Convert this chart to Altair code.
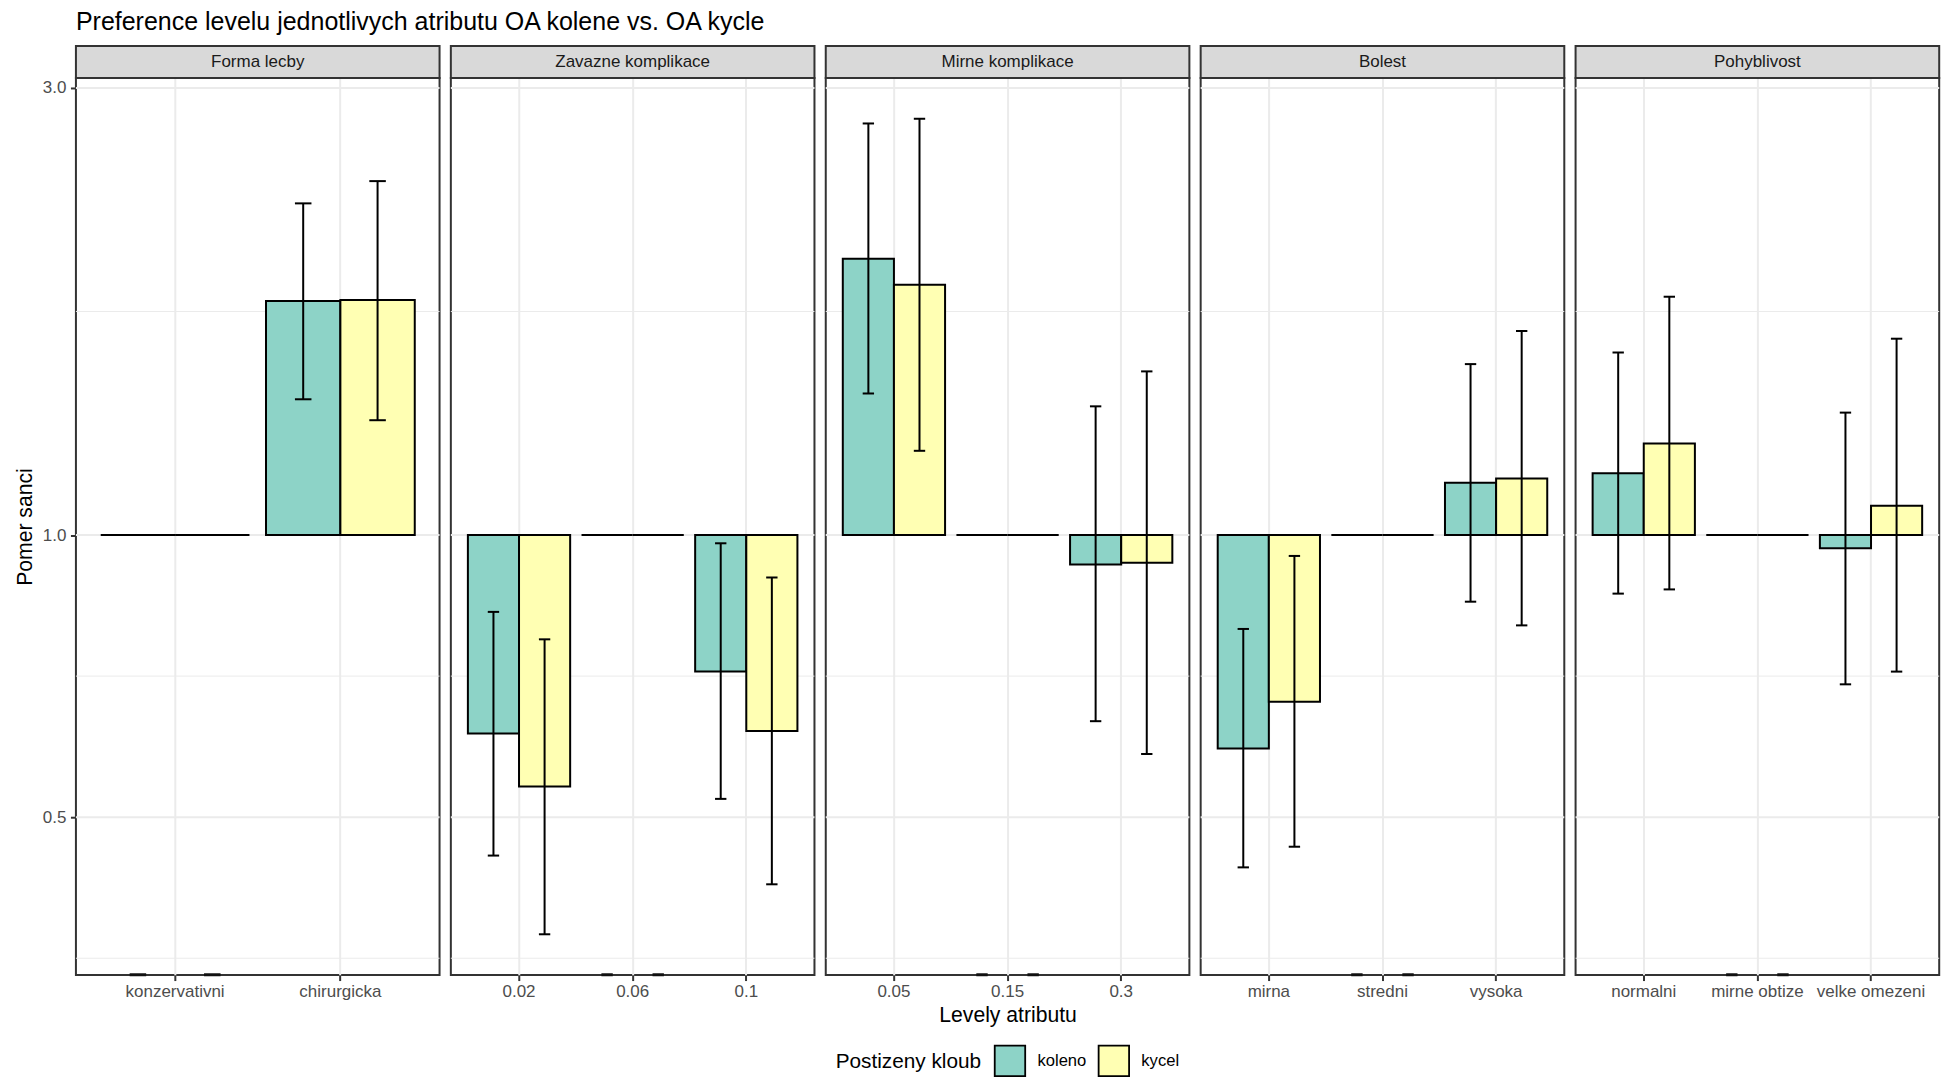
import altair as alt
import numpy as np
import pandas as pd

# ---------------- data ----------------
attributes = ["Forma lecby", "Zavazne komplikace", "Mirne komplikace", "Bolest", "Pohyblivost"]
levels_by_attr = [
    ["konzervativni", "chirurgicka"],
    ["0.02", "0.06", "0.1"],
    ["0.05", "0.15", "0.3"],
    ["mirna", "stredni", "vysoka"],
    ["normalni", "mirne obtize", "velke omezeni"],
]
reference_levels = ["konzervativni", "0.06", "0.15", "stredni", "mirne obtize"]
joints = ["koleno", "kycel"]
joint_colors = ["#8DD3C7", "#FFFFB3"]

# flattened level order: konzervativni, chirurgicka, 0.02, 0.06, 0.1, 0.05, 0.15, 0.3,
# mirna, stredni, vysoka, normalni, mirne obtize, velke omezeni
or_koleno = [1.0, 1.777, 0.614, 1.0, 0.715, 1.972, 1.0, 0.930, 0.592, 1.0, 1.137, 1.164, 1.0, 0.968]
lo_koleno = [None, 1.396, 0.455, None, 0.523, 1.416, None, 0.633, 0.442, None, 0.849, 0.866, None, 0.693]
hi_koleno = [None, 2.259, 0.828, None, 0.980, 2.749, None, 1.372, 0.794, None, 1.522, 1.566, None, 1.351]
or_kycel = [1.0, 1.782, 0.539, 1.0, 0.618, 1.850, 1.0, 0.934, 0.664, 1.0, 1.149, 1.252, 1.0, 1.075]
lo_kycel = [None, 1.326, 0.375, None, 0.424, 1.230, None, 0.584, 0.465, None, 0.801, 0.875, None, 0.715]
hi_kycel = [None, 2.386, 0.774, None, 0.901, 2.781, None, 1.495, 0.950, None, 1.651, 1.796, None, 1.620]

y_breaks = [0.25, 0.5, 1.0, 3.0]
y_labels_shown = [0.5, 1.0, 3.0]

rows = []
k = 0
for a, levs in zip(attributes, levels_by_attr):
    for lev in levs:
        for j, o, lo, hi in ((joints[0], or_koleno, lo_koleno, hi_koleno),
                             (joints[1], or_kycel, lo_kycel, hi_kycel)):
            rows.append(dict(attr=a, level=lev, joint=j, odds=o[k],
                             lo=lo[k], hi=hi[k], ref=lev in reference_levels))
        k += 1
df = pd.DataFrame(rows)

# log-scale domain with 5% expansion (as ggplot does)
lmin = np.log(df["lo"].dropna().min())
lmax = np.log(df["hi"].dropna().max())
rng = lmax - lmin
y_domain = [float(np.exp(lmin - 0.05 * rng)), float(np.exp(lmax + 0.05 * rng))]

lb = np.log(y_breaks)
minor_vals = [float(np.exp((lb[i] + lb[i + 1]) / 2)) for i in range(len(lb) - 1)]
grid_major = pd.DataFrame({"gv": y_labels_shown})
grid_minor = pd.DataFrame({"gv": minor_vals})

# ---------------- layout / style ----------------
W, H = 364, 898
STRIP = 32
FONT = "Liberation Sans"
LW = 2.0
TXT = 17
TITLE_TXT = 21.2

color = alt.Color("joint:N",
                  scale=alt.Scale(domain=joints, range=joint_colors),
                  legend=alt.Legend(orient="none", legendX=760.5, legendY=967,
                                    direction="horizontal", titleOrient="left",
                                    title="Postizeny kloub", symbolType="square",
                                    symbolSize=930, symbolStrokeColor="black",
                                    symbolStrokeWidth=1.8, symbolOpacity=1,
                                    labelFontSize=16.6, titleFontSize=20.8,
                                    labelFont=FONT, titleFont=FONT,
                                    labelOffset=11, columnPadding=8, titlePadding=12,
                                    titleFontWeight="normal", titleColor="black",
                                    labelColor="black", titleBaseline="middle"))

panels = []
for i, (name, levs) in enumerate(zip(attributes, levels_by_attr)):
    d = df[df["attr"] == name]
    dref = d[d["ref"]]
    n = len(levs)
    unit = W / (n + 0.2)
    cap = 0.1 * unit

    xaxis = alt.Axis(title="Levely atributu" if i == 2 else None, labelAngle=0,
                     bandPosition=0.5, grid=True, domain=False, ticks=True,
                     labelPadding=3, titlePadding=5)
    x = alt.X("level:N", sort=levs,
              scale=alt.Scale(domain=levs, paddingInner=0.1, paddingOuter=0.15),
              axis=xaxis)
    xo = alt.XOffset("joint:N", sort=joints,
                     scale=alt.Scale(domain=joints, paddingInner=0, paddingOuter=0))

    if i == 0:
        yaxis = alt.Axis(title="Pomer sanci", values=y_labels_shown, format=".1f",
                         grid=False, domain=False, labelPadding=4.5, titlePadding=7)
    else:
        yaxis = None

    def yenc(field):
        return alt.Y(f"{field}:Q",
                     scale=alt.Scale(type="log", domain=y_domain, nice=False, zero=False),
                     axis=yaxis)

    g_minor = alt.Chart(grid_minor).mark_rule(color="#EBEBEB", strokeWidth=1.0).encode(y=yenc("gv"))
    g_major = alt.Chart(grid_major).mark_rule(color="#EBEBEB", strokeWidth=2.0).encode(y=yenc("gv"))

    bars = alt.Chart(d).mark_bar(stroke="black", strokeWidth=LW, opacity=1).encode(
        x=x, xOffset=xo, y=yenc("odds"), y2=alt.datum(1), color=color)

    errs = alt.Chart(d).mark_rule(color="black", strokeWidth=LW).encode(
        x=x, xOffset=xo, y=yenc("lo"), y2="hi:Q")
    cap_lo = alt.Chart(d).mark_tick(color="black", thickness=LW, size=cap,
                                    orient="horizontal", opacity=1).encode(
        x=x, xOffset=xo, y=yenc("lo"))
    cap_hi = alt.Chart(d).mark_tick(color="black", thickness=LW, size=cap,
                                    orient="horizontal", opacity=1).encode(
        x=x, xOffset=xo, y=yenc("hi"))
    ref_caps = alt.Chart(dref).mark_tick(color="#111111", thickness=3, size=cap,
                                         orient="horizontal", opacity=1).encode(
        x=x, xOffset=xo, y=alt.value(H - 0.3))

    strip_df = pd.DataFrame({"attr": [name]})
    strip = alt.Chart(strip_df).mark_rect(fill="#D9D9D9", stroke="#333333",
                                          strokeWidth=LW).encode(
        x=alt.value(0), x2=alt.value(W), y=alt.value(-STRIP), y2=alt.value(0))
    strip_text = alt.Chart(strip_df).mark_text(font=FONT, fontSize=TXT,
                                               color="#1A1A1A").encode(
        x=alt.value(W / 2), y=alt.value(-STRIP / 2), text="attr:N")

    panel = alt.layer(g_minor, g_major, bars, errs, cap_lo, cap_hi, strip,
                      strip_text, ref_caps).properties(width=W, height=H)
    panels.append(panel)

chart = alt.hconcat(*panels, spacing=11.3, bounds="flush").resolve_scale(
    x="independent", xOffset="independent"
).properties(
    title=alt.TitleParams("Preference levelu jednotlivych atributu OA kolene vs. OA kycle",
                          anchor="start", frame="group", fontSize=25, font=FONT,
                          fontWeight="normal", color="black", offset=8.6),
    padding={"left": 5, "top": 1.5, "right": 0, "bottom": 0},
).configure_view(
    stroke="#333333", strokeWidth=LW
).configure_axis(
    labelFont=FONT, labelFontSize=TXT, labelColor="#4D4D4D",
    tickColor="#333333", tickSize=5.5, tickWidth=LW,
    titleFont=FONT, titleFontSize=TITLE_TXT, titleColor="black", titleFontWeight="normal",
    gridColor="#EBEBEB", gridWidth=2.0
)

chart.save("out.html", embed_options={"renderer": "svg", "actions": False})
